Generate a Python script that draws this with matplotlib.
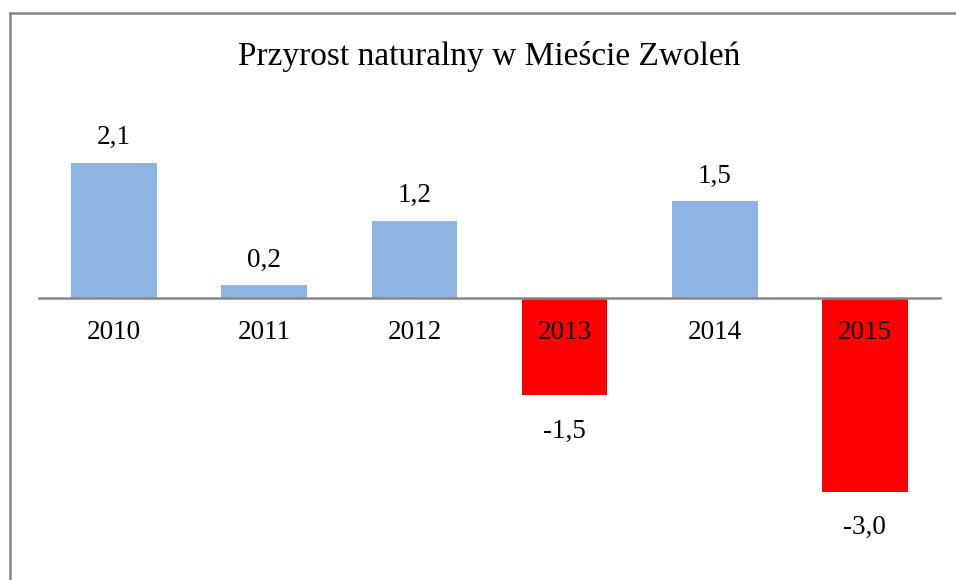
import matplotlib.pyplot as plt
from matplotlib.lines import Line2D

years = ['2010', '2011', '2012', '2013', '2014', '2015']
values = [2.1, 0.2, 1.2, -1.5, 1.5, -3.0]
labels = ['2,1', '0,2', '1,2', '-1,5', '1,5', '-3,0']

plt.rcParams['font.family'] = ['Liberation Serif', 'DejaVu Serif']

W, H = 956, 580
fig = plt.figure(figsize=(W / 100, H / 100), dpi=100)
fig.patch.set_facecolor('white')

# plot area in pixels: x 39..940, y 137..556 (zero line at 298)
ax = fig.add_axes([39 / W, 1 - 556 / H, (940 - 39) / W, (556 - 137) / H])
ax.set_xlim(-0.5, 5.5)
ax.set_ylim(-4.0, 2.5)

colors = ['#8EB4E3' if v >= 0 else '#FF0000' for v in values]
x = range(len(years))
ax.bar(x, values, width=0.57, color=colors, zorder=1)

for xi, v, lab in zip(x, values, labels):
    if v >= 0:
        ax.annotate(lab, (xi, v), xytext=(0, 18), textcoords='offset points',
                    ha='center', va='center', fontsize=19.5)
    else:
        ax.annotate(lab, (xi, v), xytext=(0, -26), textcoords='offset points',
                    ha='center', va='center', fontsize=19.5)

for s in ['top', 'right', 'left']:
    ax.spines[s].set_visible(False)
ax.spines['bottom'].set_position(('data', 0))
ax.spines['bottom'].set_color('#868686')
ax.spines['bottom'].set_linewidth(1.8)
ax.set_yticks([])
ax.set_xticks(list(x))
ax.set_xticklabels(years, fontsize=19.5)
ax.tick_params(axis='x', length=0, pad=16)

fig.text(489 / W, 1 - 56 / H, 'Przyrost naturalny w Mieście Zwoleń',
         ha='center', va='center', fontsize=24)

# chart border (left and top edges)
fig.add_artist(Line2D([10 / W, 10 / W], [0, 1 - 12.5 / H], color='#878787', lw=1.8))
fig.add_artist(Line2D([10 / W, 1], [1 - 12.5 / H, 1 - 12.5 / H], color='#878787', lw=1.8))

fig.savefig('out.png', dpi=100)
